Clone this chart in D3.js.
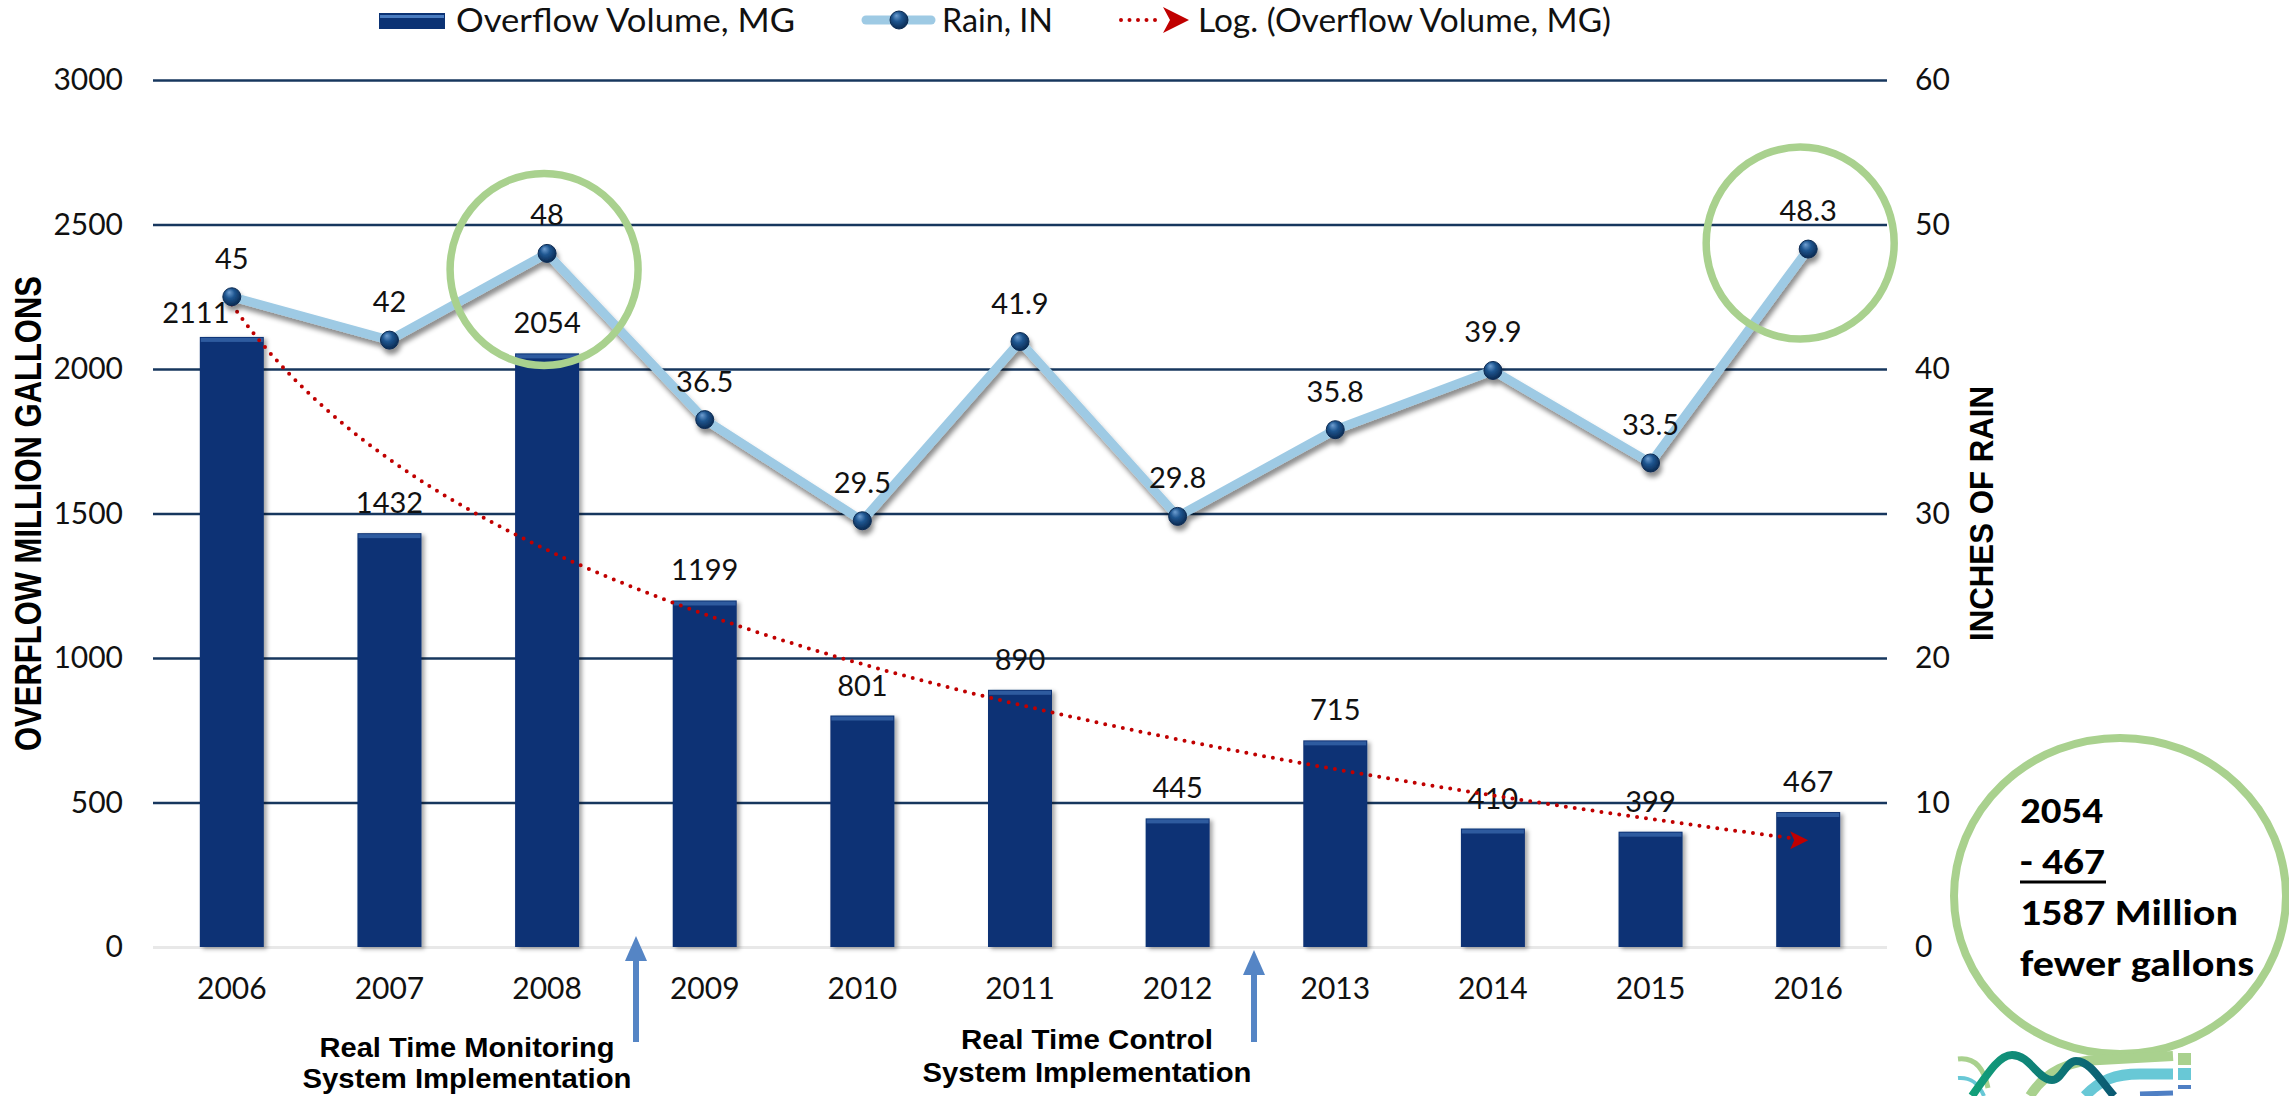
<!DOCTYPE html>
<html>

<head>
  <meta charset="utf-8">
  <title>Overflow volume vs rain</title>
  <style>
  body {
    margin: 0;
    background: #fff;
    font-family: "Century Gothic", "URW Gothic", Lato, sans-serif;
  }
  .axis .domain { display: none; }
  .axis text { fill: #111; font-family: "Century Gothic", "URW Gothic", Lato, sans-serif; }
  .grid line { stroke: #17375e; stroke-width: 2.5; }
  .bold-narrow { font-family: "Arial Narrow", "Liberation Sans Narrow", "Liberation Sans", Arial, sans-serif; font-weight: bold; fill: #000; }
</style>
</head>

<body>
  <div id="viz"></div>

  <script src="https://d3js.org/d3.v7.min.js"></script>
  <script>
    // data
    const years = ["2006", "2007", "2008", "2009", "2010", "2011", "2012", "2013", "2014", "2015", "2016"];
    const overflow = [2111, 1432, 2054, 1199, 801, 890, 445, 715, 410, 399, 467];
    const rain = [45, 42, 48, 36.5, 29.5, 41.9, 29.8, 35.8, 39.9, 33.5, 48.3];
    const leftTicks = [0, 500, 1000, 1500, 2000, 2500, 3000];
    const rightTicks = [0, 10, 20, 30, 40, 50, 60];
    const legendLabels = ["Overflow Volume, MG", "Rain, IN", "Log. (Overflow Volume, MG)"];
    const summaryLines = ["2054", "- 467", "1587 Million", "fewer gallons"];

    let svgWidth = 2289;
    let svgHeight = 1096;
    let plot = {"left": 153, "right": 1887, "top": 80, "bottom": 947};

    let svg = d3.select("#viz")
      .append("svg")
      .attr("width", svgWidth)
      .attr("height", svgHeight);

    // defs: shadows + marker gradient
    let defs = svg.append("defs");
    let lineShadow = defs.append("filter").attr("id", "lineShadow")
      .attr("x", "-5%").attr("y", "-20%").attr("width", "110%").attr("height", "140%");
    lineShadow.append("feDropShadow")
      .attr("dx", 2).attr("dy", 5).attr("stdDeviation", 2.5)
      .attr("flood-color", "#000").attr("flood-opacity", 0.45);
    let barShadow = defs.append("filter").attr("id", "barShadow")
      .attr("x", "-20%").attr("y", "-5%").attr("width", "140%").attr("height", "110%");
    barShadow.append("feDropShadow")
      .attr("dx", 3).attr("dy", 2).attr("stdDeviation", 2)
      .attr("flood-color", "#000").attr("flood-opacity", 0.35);
    let ball = defs.append("radialGradient").attr("id", "ball")
      .attr("cx", "45%").attr("cy", "40%").attr("r", "60%")
      .attr("fx", "35%").attr("fy", "25%");
    ball.append("stop").attr("offset", "0%").attr("stop-color", "#6f9fd2");
    ball.append("stop").attr("offset", "45%").attr("stop-color", "#1f5690");
    ball.append("stop").attr("offset", "100%").attr("stop-color", "#0a2a52");
    let teal = defs.append("linearGradient").attr("id", "teal");
    teal.append("stop").attr("offset", "0%").attr("stop-color", "#12a07a");
    teal.append("stop").attr("offset", "100%").attr("stop-color", "#0b5a73");

    // scales
    let x = d3.scaleBand()
      .domain(years)
      .range([plot.left, plot.right])
      .paddingInner(0.594)
      .paddingOuter(0.297);
    let yL = d3.scaleLinear().domain([0, 3000]).range([plot.bottom, plot.top]);
    let yR = d3.scaleLinear().domain([0, 60]).range([plot.bottom, plot.top]);
    let cx = d => x(d) + x.bandwidth() / 2;

    // gridlines
    svg.append("g")
      .attr("class", "grid")
      .attr("transform", `translate(${plot.left},0)`)
      .call(d3.axisLeft(yL).tickValues(leftTicks).tickSize(-(plot.right - plot.left)).tickFormat(""))
      .call(g => g.select(".domain").remove())
      .selectAll(".tick")
      .filter(d => d === 0)
      .select("line")
      .style("stroke", "#e8e8e8")
      .style("stroke-width", 3);

    // axes
    svg.append("g")
      .attr("class", "axis")
      .attr("transform", `translate(${plot.left},0)`)
      .call(d3.axisLeft(yL).tickValues(leftTicks).tickFormat(d3.format("d")).tickSize(0).tickPadding(30))
      .selectAll("text").style("font-size", "30px");

    svg.append("g")
      .attr("class", "axis")
      .attr("transform", `translate(${plot.right},0)`)
      .call(d3.axisRight(yR).tickValues(rightTicks).tickSize(0).tickPadding(28))
      .selectAll("text").style("font-size", "30px");

    svg.append("g")
      .attr("class", "axis")
      .attr("transform", `translate(0,${plot.bottom})`)
      .call(d3.axisBottom(x).tickSize(0).tickPadding(31))
      .selectAll("text").style("font-size", "30px");

    // axis titles
    svg.append("text")
      .attr("class", "bold-narrow")
      .attr("transform", `translate(41,${(plot.top + plot.bottom) / 2}) rotate(-90)`)
      .attr("text-anchor", "middle")
      .attr("font-size", 36)
      .attr("textLength", 475)
      .attr("lengthAdjust", "spacingAndGlyphs")
      .text("OVERFLOW MILLION GALLONS");

    svg.append("text")
      .attr("class", "bold-narrow")
      .attr("transform", `translate(1993,${(plot.top + plot.bottom) / 2}) rotate(-90)`)
      .attr("text-anchor", "middle")
      .attr("font-size", 33)
      .attr("textLength", 255)
      .attr("lengthAdjust", "spacingAndGlyphs")
      .text("INCHES OF RAIN");

    // bars
    let bars = svg.append("g");
    bars.selectAll("rect.bar")
      .data(overflow)
      .join("rect")
      .attr("class", "bar")
      .attr("x", (d, i) => x(years[i]))
      .attr("y", d => yL(d))
      .attr("width", x.bandwidth())
      .attr("height", d => plot.bottom - yL(d))
      .attr("fill", "#0b3274")
      .attr("filter", "url(#barShadow)");
    bars.selectAll("rect.bevel")
      .data(overflow)
      .join("rect")
      .attr("class", "bevel")
      .attr("x", (d, i) => x(years[i]) + 1)
      .attr("y", d => yL(d) + 1)
      .attr("width", x.bandwidth() - 2)
      .attr("height", 4)
      .attr("fill", "#3d6cb0")
      .attr("opacity", 0.7);

    // bar labels (first one sits left of its bar in the original)
    svg.append("g")
      .selectAll("text")
      .data(overflow)
      .join("text")
      .attr("x", (d, i) => cx(years[i]) + (i === 0 ? -36 : 0))
      .attr("y", (d, i) => yL(d) - (i === 0 ? 14 : 20))
      .attr("text-anchor", "middle")
      .attr("font-size", 29)
      .attr("fill", "#111")
      .text(d => d);

    // log trendline, least squares on ln(index)
    let lx = overflow.map((d, i) => Math.log(i + 1));
    let mx = d3.mean(lx), my = d3.mean(overflow);
    let slope = d3.sum(lx, (v, i) => (v - mx) * (overflow[i] - my)) / d3.sum(lx, v => (v - mx) * (v - mx));
    let icpt = my - slope * mx;
    let trend = d3.range(1, 11.001, 0.05).map(t => [cx(years[0]) + (t - 1) * x.step(), yL(icpt + slope * Math.log(t))]);
    let endPt = trend[trend.length - 1];
    trend[trend.length - 1] = [endPt[0] - 14, endPt[1]];
    svg.append("path")
      .attr("d", d3.line()(trend))
      .attr("fill", "none")
      .attr("stroke", "#c00000")
      .attr("stroke-width", 4)
      .attr("stroke-linecap", "round")
      .attr("stroke-dasharray", "0 9");
    svg.append("path")
      .attr("d", `M${endPt[0]},${endPt[1]} l-18,-9 l4,9 l-4,9 z`)
      .attr("fill", "#c00000");

    // rain line
    let rainG = svg.append("g").attr("filter", "url(#lineShadow)");
    rainG.append("path")
      .attr("d", d3.line().x((d, i) => cx(years[i])).y(d => yR(d))(rain))
      .attr("fill", "none")
      .attr("stroke", "#9ecae4")
      .attr("stroke-width", 9)
      .attr("stroke-linejoin", "round");
    rainG.selectAll("circle")
      .data(rain)
      .join("circle")
      .attr("cx", (d, i) => cx(years[i]))
      .attr("cy", d => yR(d))
      .attr("r", 9)
      .attr("fill", "url(#ball)")
      .attr("stroke", "#0a2a52")
      .attr("stroke-width", 1);

    svg.append("g")
      .selectAll("text")
      .data(rain)
      .join("text")
      .attr("x", (d, i) => cx(years[i]))
      .attr("y", d => yR(d) - 28)
      .attr("text-anchor", "middle")
      .attr("font-size", 29)
      .attr("fill", "#111")
      .text(d => d);

    // green highlight rings on the wettest years
    [["2008", 48, -3, 16], ["2016", 48.3, -8, -6]].forEach(([yr, v, dx, dy]) => {
      svg.append("ellipse")
        .attr("cx", cx(yr) + dx)
        .attr("cy", yR(v) + dy)
        .attr("rx", 94)
        .attr("ry", 96)
        .attr("fill", "none")
        .attr("stroke", "#a9d18e")
        .attr("stroke-width", 7.5);
    });

    // legend
    let legend = svg.append("g").attr("font-size", 32).attr("fill", "#111");
    legend.append("rect").attr("x", 379).attr("y", 13).attr("width", 66).attr("height", 16).attr("fill", "#0b3274");
    legend.append("rect").attr("x", 380).attr("y", 15).attr("width", 64).attr("height", 3).attr("fill", "#4a7cc0");
    legend.append("text").attr("x", 456).attr("y", 32)
      .attr("textLength", 339).attr("lengthAdjust", "spacingAndGlyphs").text(legendLabels[0]);
    legend.append("line").attr("x1", 866).attr("x2", 931).attr("y1", 20).attr("y2", 20)
      .attr("stroke", "#9ecae4").attr("stroke-width", 9).attr("stroke-linecap", "round");
    legend.append("circle").attr("cx", 899).attr("cy", 20).attr("r", 9)
      .attr("fill", "url(#ball)").attr("stroke", "#0a2a52");
    legend.append("text").attr("x", 942).attr("y", 32)
      .attr("textLength", 111).attr("lengthAdjust", "spacingAndGlyphs").text(legendLabels[1]);
    legend.append("line").attr("x1", 1121).attr("x2", 1162).attr("y1", 20).attr("y2", 20)
      .attr("stroke", "#c00000").attr("stroke-width", 4)
      .attr("stroke-linecap", "round").attr("stroke-dasharray", "0 8.5");
    legend.append("path").attr("d", "M1189,20 l-26,-13 l7,13 l-7,13 z").attr("fill", "#c00000");
    legend.append("text").attr("x", 1198).attr("y", 32)
      .attr("textLength", 413).attr("lengthAdjust", "spacingAndGlyphs").text(legendLabels[2]);

    // implementation arrows + notes
    let notes = [
      {x: 636, tip: 936, lines: ["Real Time Monitoring", "System Implementation"], cx: 467, base: 1057, lens: [295, 329]},
      {x: 1254, tip: 950, lines: ["Real Time Control", "System Implementation"], cx: 1087, base: 1049, lens: [252, 329]}
    ];
    notes.forEach(n => {
      svg.append("line").attr("x1", n.x).attr("x2", n.x).attr("y1", n.tip + 20).attr("y2", 1042)
        .attr("stroke", "#5585c5").attr("stroke-width", 6);
      svg.append("path").attr("d", `M${n.x},${n.tip} l-11,25 l22,0 z`).attr("fill", "#5585c5");
      n.lines.forEach((t, k) => {
        svg.append("text")
          .attr("class", "bold-narrow")
          .attr("x", n.cx)
          .attr("y", Math.min(n.base + k * 33, 1088))
          .attr("text-anchor", "middle")
          .attr("font-size", 27)
          .attr("textLength", n.lens[k])
          .attr("lengthAdjust", "spacingAndGlyphs")
          .text(t);
      });
    });

    // summary bubble
    svg.append("ellipse")
      .attr("cx", 2120).attr("cy", 896).attr("rx", 166).attr("ry", 158)
      .attr("fill", "none").attr("stroke", "#a9d18e").attr("stroke-width", 8);
    let sumLens = [83, 85, 218, 234];
    summaryLines.forEach((t, k) => {
      svg.append("text")
        .attr("x", 2020)
        .attr("y", 823 + k * 51)
        .attr("font-family", "Carlito, Calibri, 'Open Sans', sans-serif")
        .attr("font-weight", "bold")
        .attr("font-size", 36)
        .attr("fill", "#000")
        .attr("textLength", sumLens[k])
        .attr("lengthAdjust", "spacingAndGlyphs")
        .text(t);
    });
    svg.append("line").attr("x1", 2020).attr("x2", 2106).attr("y1", 882).attr("y2", 882)
      .attr("stroke", "#000").attr("stroke-width", 3);

    // logo fragment, bottom right
    let logo = svg.append("g").attr("fill", "none").attr("stroke-linecap", "butt");
    logo.append("path").attr("d", "M1958,1059 C1975,1057 1984,1068 1988,1088")
      .attr("stroke", "#a9d18e").attr("stroke-width", 5);
    logo.append("path").attr("d", "M1958,1078 C1970,1077 1978,1082 1984,1096")
      .attr("stroke", "#68c8d6").attr("stroke-width", 4);
    logo.append("path").attr("d", "M2030,1096 C2045,1072 2070,1060 2100,1060 L2173,1056")
      .attr("stroke", "#a9d18e").attr("stroke-width", 10);
    logo.append("path").attr("d", "M2085,1096 C2100,1080 2115,1074 2140,1074 L2173,1074")
      .attr("stroke", "#68c8d6").attr("stroke-width", 11);
    logo.append("path").attr("d", "M1972,1096 C1990,1070 2000,1055 2012,1055 C2030,1055 2038,1080 2052,1080 C2062,1080 2066,1061 2076,1061 C2090,1061 2100,1080 2114,1096")
      .attr("stroke", "url(#teal)").attr("stroke-width", 8);
    logo.append("path").attr("d", "M2140,1094 L2173,1093")
      .attr("stroke", "#4f7fc4").attr("stroke-width", 5);
    logo.append("rect").attr("x", 2178).attr("y", 1053).attr("width", 13).attr("height", 12).attr("fill", "#a9d18e").attr("stroke", "none");
    logo.append("rect").attr("x", 2178).attr("y", 1068).attr("width", 13).attr("height", 12).attr("fill", "#68c8d6").attr("stroke", "none");
    logo.append("rect").attr("x", 2178).attr("y", 1085).attr("width", 13).attr("height", 4).attr("fill", "#4f7fc4").attr("stroke", "none");
  </script>

</body>
</html>
